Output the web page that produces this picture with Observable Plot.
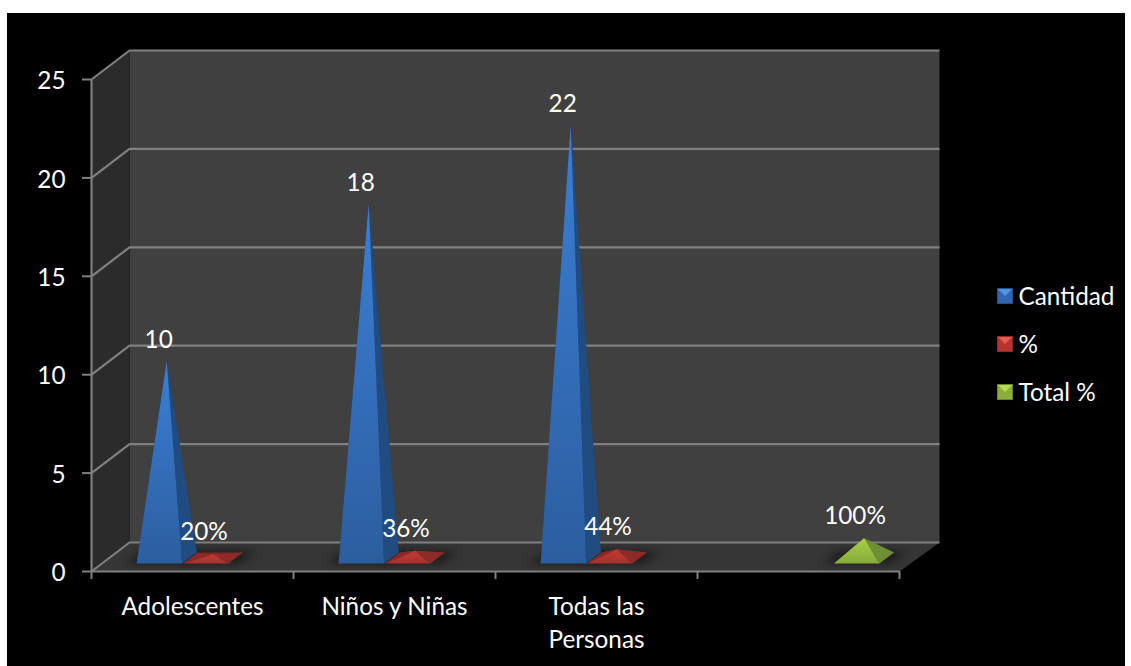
<!DOCTYPE html>
<html>
<head>
<meta charset="utf-8">
<script src="https://cdn.jsdelivr.net/npm/d3@7"></script>
<script src="https://cdn.jsdelivr.net/npm/@observablehq/plot@0.6"></script>
<style>
html,body{margin:0;padding:0;background:#fff;width:1131px;height:666px;overflow:hidden}
#frame{position:absolute;left:7px;top:13px;width:1118px;height:653px;background:#000}
#chart{position:absolute;left:0;top:0}
#legend{position:absolute;left:997px;top:0;font:24.3px Lato,sans-serif;color:#fff}
.item{position:absolute;left:0;white-space:nowrap;height:34px;line-height:34px}
.sw{position:absolute;left:0;top:9px;width:0;height:0;border-style:solid;border-width:8.5px;outline:1px solid;outline-offset:-1px}
.lb{position:absolute;left:21.5px;top:0}
</style>
</head>
<body>
<div id="frame"></div>
<div id="chart"></div>
<div id="legend"></div>
<script>
const categories = ["Adolescentes", "Niños y Niñas", "Todas las\nPersonas", ""];
const cantidad = [10, 18, 22, null];
const porcentaje = [0.20, 0.36, 0.44, null];
const totalPct = [null, null, null, 1];
const cantidadLabels = ["10", "18", "22", ""];
const porcentajeLabels = ["20%", "36%", "44%", ""];
const totalLabels = ["", "", "", "100%"];
const yTicks = [0, 5, 10, 15, 20, 25];
const xTicks = [0, 1, 2, 3, 4];

// oblique 3-D projection, in scale units per unit of depth
const kx = 0.1931, ky = 1.4736;
const P = (x, v, d) => ({x: x + d * kx, y: v + d * ky});
const poly = (id, pts) => pts.map(p => ({id, ...P(...p)}));

const backL = -0.005, backR = 4.005;
const wallBack = poly("b", [[backL,0,1],[backR,0,1],[backR,25,1],[backL,25,1]]);
const wallSide = poly("s", [[0,0,0],[backL,0,1],[backL,25,1],[0,25,0]]);
const floor = poly("f", [[0,0,0],[4,0,0],[backR,0,1],[backL,0,1]]);
const grid = yTicks.flatMap(v => poly("g" + v, [[0,v,0],[backL,v,1],[backR,v,1]]));
const frontEdge = poly("e", [[0,0,0],[4,0,0]]);
const leftEdge = poly("l", [[0,0,0],[0,25,0]]);

const halfW = 0.1125, dFront = 0.28, dBack = 0.655;
const series = [
  {name: "Cantidad", values: cantidad, labels: cantidadLabels, off: -0.218,
   front: "url(#gBlue)", right: "#204c82", back: "#1c4272"},
  {name: "%", values: porcentaje, labels: porcentajeLabels, off: 0.011,
   front: "url(#gRed)", right: "#8e2b28", back: "#8a2a27"},
  {name: "Total %", values: totalPct, labels: totalLabels, off: 0.234,
   front: "url(#gGreen)", right: "#708f35", back: "#5f7a2c"}
];

const pyramids = [], shadows = [], labels = [];
series.forEach((s, si) => {
  s.values.forEach((v, i) => {
    if (v == null) return;
    const c = i + 0.5 + s.off, L = c - halfW, R = c + halfW, dM = (dFront + dBack) / 2;
    const FL = [L,0,dFront], FR = [R,0,dFront], BL = [L,0,dBack], BR = [R,0,dBack], A = [c,v,dM];
    pyramids.push({s: si, face: "back", pts: poly(`${si}-${i}-bk`, [BL,BR,A])});
    pyramids.push({s: si, face: "back", pts: poly(`${si}-${i}-lf`, [FL,BL,A])});
    pyramids.push({s: si, face: "right", pts: poly(`${si}-${i}-rt`, [FR,BR,A])});
    pyramids.push({s: si, face: "front", pts: poly(`${si}-${i}-fr`, [FL,FR,A])});
    const e = 0.055;
    shadows.push(...poly(`${si}-${i}-sh`, [[L-e,0,dFront-0.02],[R+e,0,dFront-0.02],[R+e,0,dBack+0.06],[L-e,0,dBack+0.06]]));
    labels.push({...P(c,v,dM), text: s.labels[i], s: si});
  });
});

const faceMark = (si, face, fill) => Plot.line(
  pyramids.filter(p => p.s === si && p.face === face).flatMap(p => p.pts),
  {x: "x", y: "y", z: "id", fill}
);
const pyramidMarks = series.flatMap((s, si) => [
  faceMark(si, "back", s.back), faceMark(si, "right", s.right), faceMark(si, "front", s.front)
]);

function gradients() {
  const defs = d3.create("svg:defs");
  const add = (id, a, b) => {
    const g = defs.append("linearGradient").attr("id", id).attr("x1", 0).attr("y1", 0).attr("x2", 0).attr("y2", 1);
    g.append("stop").attr("offset", 0).attr("stop-color", a);
    g.append("stop").attr("offset", 1).attr("stop-color", b);
  };
  add("gBlue", "#3b7fd6", "#2c5e9f");
  add("gRed", "#c23a32", "#a8302c");
  add("gGreen", "#a9d145", "#86ab3a");
  return defs.node();
}

const gridColor = "#808080", textFont = "Lato, sans-serif", fs = 24.3;

const chart = Plot.plot({
  width: 1131, height: 666,
  marginLeft: 91, marginRight: 232, marginTop: 79, marginBottom: 95,
  style: {background: "transparent", overflow: "visible", color: "#fff", fontFamily: textFont},
  x: {domain: [0, 4]},
  y: {domain: [0, 25]},
  marks: [
    gradients,
    Plot.line(wallBack, {x: "x", y: "y", fill: "#404040"}),
    Plot.line(wallSide, {x: "x", y: "y", fill: "#2b2b2b"}),
    Plot.line(floor, {x: "x", y: "y", fill: "#363636"}),
    Plot.line(grid, {x: "x", y: "y", z: "id", stroke: gridColor, strokeWidth: 2.2, strokeLinecap: "butt"}),
    Plot.line(frontEdge, {x: "x", y: "y", stroke: gridColor, strokeWidth: 2.2, strokeLinecap: "butt"}),
    Plot.line(leftEdge, {x: "x", y: "y", stroke: gridColor, strokeWidth: 2.2, strokeLinecap: "butt"}),
    Plot.line(shadows, {x: "x", y: "y", z: "id", fill: "#161616", fillOpacity: 0.75, imageFilter: "blur(4px)"}),
    ...pyramidMarks,
    Plot.axisY({ticks: yTicks, tickSize: 9, tickFormat: () => "", label: null, stroke: gridColor, strokeWidth: 2}),
    Plot.axisY({ticks: yTicks, tickSize: 0, tickPadding: 26, label: null, fill: "#fff", fontSize: fs, tickFormat: d => String(d), dy: 2}),
    Plot.axisX({ticks: xTicks, tickSize: 8, tickFormat: () => "", label: null, stroke: gridColor, strokeWidth: 2}),
    Plot.text(categories.map((t, i) => ({t, x: i + 0.5})).filter(d => d.t), {
      x: "x", y: () => 0, text: "t", dy: 20, lineAnchor: "top", lineHeight: 1.36, fontSize: fs, fill: "#fff"
    }),
    Plot.text(labels.filter(d => d.s === 0), {x: "x", y: "y", text: "text", dx: -8, dy: -20.5, fontSize: fs, fill: "#fff"}),
    Plot.text(labels.filter(d => d.s > 0), {x: "x", y: "y", text: "text", dx: -9, dy: -22, fontSize: fs, fill: "#fff"})
  ]
});
document.getElementById("chart").appendChild(chart);

const legendSwatches = [
  {name: "Cantidad", top: 279, c: ["#4f97e6", "#2f66ad", "#2f66ad"], e: "#274f84"},
  {name: "%", top: 327, c: ["#e85a52", "#b5342f", "#b5342f"], e: "#8a2a27"},
  {name: "Total %", top: 375, c: ["#b4dc50", "#8aad3c", "#8aad3c"], e: "#68822f"}
];
const lg = document.getElementById("legend");
legendSwatches.forEach(d => {
  const it = document.createElement("div"); it.className = "item"; it.style.top = d.top + "px";
  const sw = document.createElement("div"); sw.className = "sw";
  sw.style.borderColor = `${d.c[0]} ${d.c[1]} ${d.c[2]} ${d.c[1]}`;
  sw.style.outlineColor = d.e;
  const lb = document.createElement("div"); lb.className = "lb"; lb.textContent = d.name;
  it.append(sw, lb); lg.append(it);
});
</script>
</body>
</html>
